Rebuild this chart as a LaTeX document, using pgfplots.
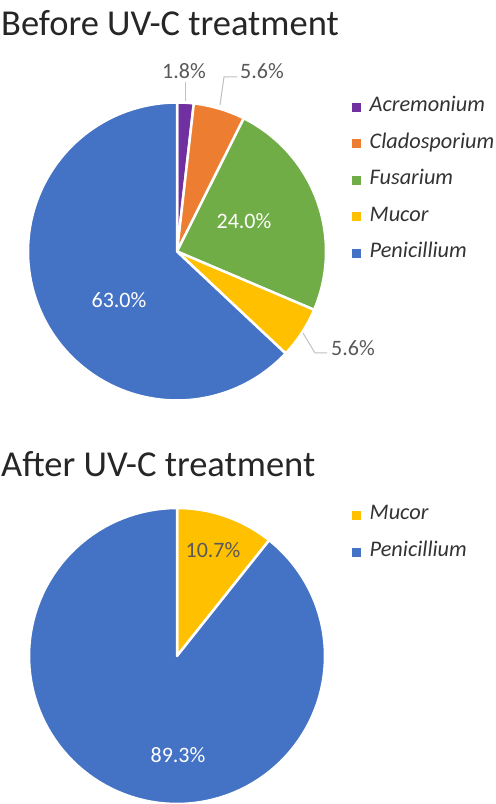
\documentclass[border=0pt]{standalone}
\usepackage{fontspec}
\setmainfont{Carlito}
\usepackage{pgfplots}
\pgfplotsset{compat=1.18}
\definecolor{acrem}{HTML}{7030A0}
\definecolor{clado}{HTML}{ED7D31}
\definecolor{fusar}{HTML}{70AD47}
\definecolor{mucor}{HTML}{FFC000}
\definecolor{penic}{HTML}{4472C4}
\definecolor{labgray}{HTML}{595959}
\definecolor{leadgray}{HTML}{BFBFBF}
\definecolor{titlecol}{HTML}{262626}
\definecolor{legcol}{HTML}{333333}
\newcommand\cum{0}
% #1 cx, #2 cy, #3 r, #4 percent, #5 colour
\newcommand\slice[5]{%
  \pgfmathsetmacro\sa{90-3.6*\cum}%
  \pgfmathsetmacro\ea{90-3.6*(\cum+#4)}%
  \pgfmathsetmacro\newcum{\cum+#4}%
  \global\let\cum\newcum
  \edef\doit{\noexpand\addplot[fill=#5, draw=white, line width=2.5bp, line join=round, samples=120, domain=\ea:\sa]
    ({#1+#3*cos(x)},{#2+#3*sin(x)}) -- (axis cs:#1,#2) -- cycle;}%
  \doit
}
% legend entry: #1 y (axis units, centre of entry), #2 colour, #3 name
\newcommand\legitem[3]{%
  \addplot[forget plot, only marks, mark=square*, mark size=4bp, color=#2, mark options={draw=none, fill=#2}] coordinates {(356.5,#1)};
  \node[anchor=base west, inner sep=0pt, text=legcol, font=\fontsize{22.3bp}{26bp}\selectfont\itshape] at (axis cs:369.5,#1-5) {#3};
}
\pgfplotsset{
  piebase/.style={
    at={(0,0)}, anchor=south west,
    width=496bp, height=804bp, scale only axis,
    xmin=0, xmax=496, ymin=0, ymax=804,
    hide axis,
  },
  lead/.style={leadgray, line width=1bp, no marks, forget plot},
}
\tikzset{lab/.style={font=\fontsize{22bp}{26bp}\selectfont, inner sep=0pt}}
\begin{document}
\begin{tikzpicture}
\begin{axis}[piebase]
\gdef\cum{0}
\slice{177}{552.5}{149}{1.8}{acrem}
\slice{177}{552.5}{149}{5.6}{clado}
\slice{177}{552.5}{149}{24.0}{fusar}
\slice{177}{552.5}{149}{5.6}{mucor}
\slice{177}{552.5}{149}{63.0}{penic}
\addplot[lead] coordinates {(185,722) (185,703)};
\addplot[lead] coordinates {(237,727) (224,727) (220,699)};
\addplot[lead] coordinates {(303,471) (315,451) (327,451)};
\legitem{697}{acrem}{Acremonium}
\legitem{660.5}{clado}{Cladosporium}
\legitem{624}{fusar}{Fusarium}
\legitem{587.5}{mucor}{Mucor}
\legitem{551}{penic}{Penicillium}
\node[lab, text=labgray] at (axis cs:184,733) {1.8\%};
\node[lab, text=labgray] at (axis cs:262,733) {5.6\%};
\node[lab, text=white] at (axis cs:244,583) {24.0\%};
\node[lab, text=labgray] at (axis cs:353,456) {5.6\%};
\node[lab, text=white] at (axis cs:119,504) {63.0\%};
\node[anchor=base west, inner sep=0pt, text=titlecol, font=\fontsize{36.5bp}{43bp}\selectfont] at (axis cs:1,768) {Before UV-C treatment};
\end{axis}
\begin{axis}[piebase]
\gdef\cum{0}
\slice{177}{148}{148}{10.7}{mucor}
\slice{177}{148}{148}{89.3}{penic}
\legitem{289}{mucor}{Mucor}
\legitem{252}{penic}{Penicillium}
\node[lab, text=labgray] at (axis cs:213,254) {10.7\%};
\node[lab, text=white] at (axis cs:178,49) {89.3\%};
\node[anchor=base west, inner sep=0pt, text=titlecol, font=\fontsize{36.5bp}{43bp}\selectfont] at (axis cs:1,327) {After UV-C treatment};
\end{axis}
\pgfresetboundingbox
\path[use as bounding box] (0,0) rectangle (496bp,804bp);
\end{tikzpicture}
\end{document}
